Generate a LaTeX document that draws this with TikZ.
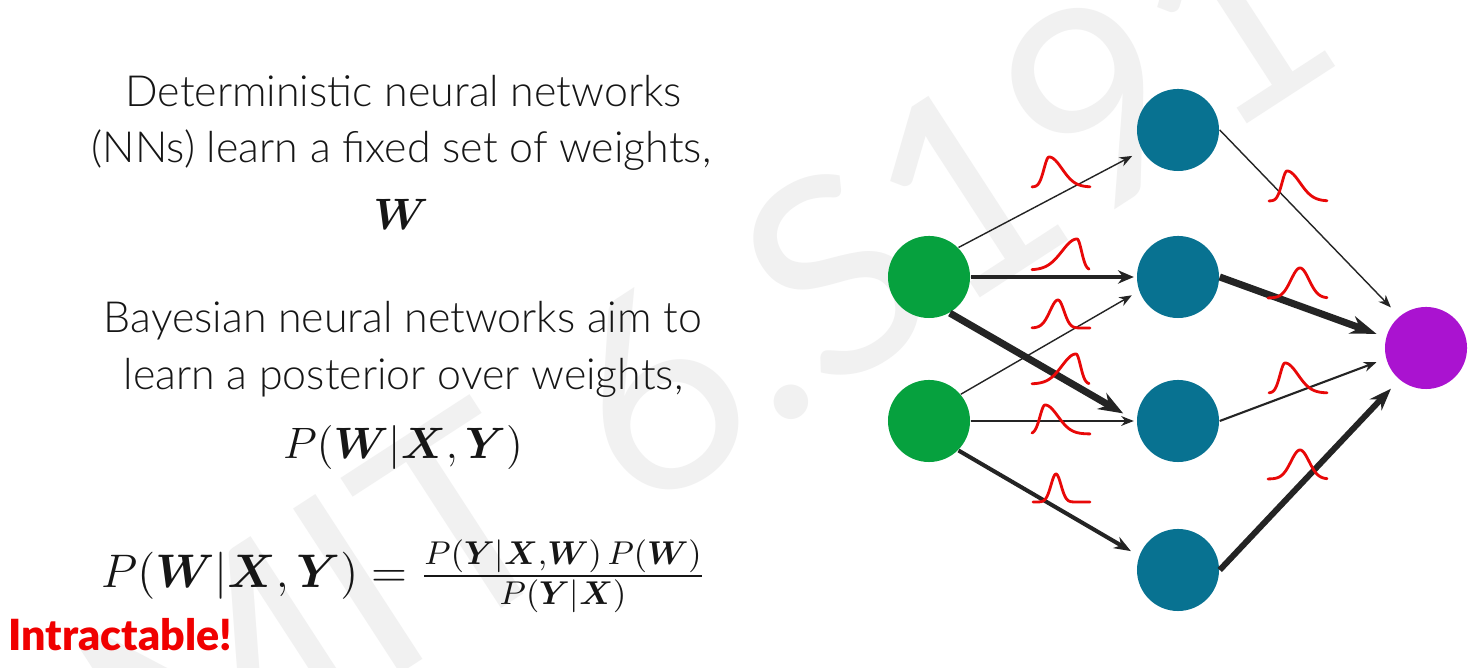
\RequirePackage{fix-cm}
\documentclass[tikz,border=0pt]{standalone}
\usepackage[no-math]{fontspec}
\usepackage{amsmath}
\usepackage{bm}
\setmainfont{Lato}[UprightFont={* Light},BoldFont={* Black}]
\newfontfamily\markfont{Lato}
\usetikzlibrary{arrows.meta}

\definecolor{inputgreen}{RGB}{6,161,62}
\definecolor{hiddenteal}{RGB}{8,114,145}
\definecolor{outputviolet}{RGB}{170,19,208}
\definecolor{bellred}{RGB}{232,8,8}
\definecolor{edgegray}{RGB}{36,36,36}
\definecolor{markgray}{RGB}{241,241,241}
\definecolor{alertred}{RGB}{240,0,0}
\definecolor{inkblack}{RGB}{22,22,22}

% split-normal bump drawn as a weight distribution:
% #1,#2 domain, #3 peak x, #4 base y, #5 height, #6 left spread, #7 right spread
\newcommand\weightbump[7]{%
  \draw[bell] plot[domain=#1:#2,samples=80]
    (\x,{#4-#5*exp(-min(((\x-#3)^2)/(2*(ifthenelse(\x<#3,#6,#7))^2),30))});}

\begin{document}
\begin{tikzpicture}[x=0.01cm,y=-0.01cm,
  neuron/.style={circle,inner sep=0pt,minimum size=0.82cm},
  wedge/.style n args={3}{draw=edgegray,line width=#1,
    -{Stealth[length=#2,width=#3]}},
  bell/.style={draw=bellred,line width=0.8pt,line cap=round,line join=round},
  body/.style={text=inkblack,inner sep=0pt,font=\fontsize{12.2}{14}\selectfont},
  formula/.style={text=inkblack,inner sep=0pt,font=\fontsize{12.5}{15}\selectfont}]

\fill[white] (0,0) rectangle (1479,668);
\useasboundingbox (0,0) rectangle (1479,668);

% faint course watermark behind everything
\node[rotate=33,anchor=base east,inner sep=0pt,text=markgray,
      font=\markfont\fontsize{78}{80}\selectfont] (mark) at (1352,56) {MIT 6.S191};

% left column text
\node[body,anchor=base] (l1) at (403.5,107) {Deterministic neural networks};
\node[body,anchor=base] (l2) at (401.5,163) {(NNs) learn a fixed set of weights,};
\node[formula,anchor=base] (l3) at (401,230) {$\bm{W}$};
\node[body,anchor=base] (l4) at (403,333) {Bayesian neural networks aim to};
\node[body,anchor=base] (l5) at (403.5,390) {learn a posterior over weights,};
\node[formula,anchor=base] (l6) at (403,459)
  {$P(\bm{W}|\bm{X},\bm{Y})$};
\node[formula,anchor=base,font=\fontsize{13.4}{16}\selectfont] (l7) at (403.5,588)
  {$P(\bm{W}|\bm{X},\bm{Y}) = \frac{P(\bm{Y}|\bm{X},\bm{W})\,P(\bm{W})}{P(\bm{Y}|\bm{X})}$};
\node[anchor=base west,inner sep=0pt,text=alertred,
      font=\bfseries\fontsize{12.2}{14}\selectfont] (warn) at (8,651) {Intractable!};

% network
\node[neuron,fill=inputgreen] (g1) at (929,277) {};
\node[neuron,fill=inputgreen] (g2) at (929,421) {};
\node[neuron,fill=hiddenteal] (h1) at (1178,130) {};
\node[neuron,fill=hiddenteal] (h2) at (1178,277) {};
\node[neuron,fill=hiddenteal] (h3) at (1178,421) {};
\node[neuron,fill=hiddenteal] (h4) at (1178,570) {};
\node[neuron,fill=outputviolet] (out) at (1426,348) {};

% input -> hidden
\draw[wedge={0.4pt}{3.6pt}{2.8pt},shorten >=3.1pt] (g1.45) -- (h1.210);
\draw[wedge={1.4pt}{4.5pt}{3.8pt},shorten >=0.7pt] (g1.east) -- (h2.west);
\draw[wedge={2pt}{7pt}{5.2pt},shorten >=4.3pt] (g1.-60) -- (h3.west);
\draw[wedge={0.4pt}{3.6pt}{2.8pt},shorten >=2.3pt] (g2.40) -- (h2.200);
\draw[wedge={0.45pt}{3.6pt}{2.8pt},shorten >=0.7pt] (g2.east) -- (h3.west);
\draw[wedge={1.15pt}{4.8pt}{3.6pt},shorten >=2.6pt] (g2.-45) -- (h4.160);

% hidden -> output
\draw[wedge={0.4pt}{3.6pt}{2.8pt},shorten >=3.4pt] (h1.east) -- (out.130);
\draw[wedge={2pt}{7.4pt}{5.2pt},shorten >=2.8pt] (h2.east) -- (out.165);
\draw[wedge={0.6pt}{3.6pt}{2.8pt},shorten >=2.8pt] (h3.east) -- (out.195);
\draw[wedge={1.7pt}{6.3pt}{4.6pt},shorten >=3.4pt] (h4.east) -- (out.230);

% weight distributions on the first layer
\weightbump{1032}{1090}{1049}{187}{30}{5}{13}
\weightbump{1032}{1089}{1077}{270}{31}{15}{4.5}
\weightbump{1032}{1090}{1058}{328}{28}{8}{6}
\weightbump{1032}{1089}{1076}{384}{30}{14}{4.5}
\weightbump{1032}{1090}{1045}{434}{29}{5}{13}
\weightbump{1033}{1090}{1056}{502}{28}{5}{5}

% weight distributions on the second layer
\weightbump{1269}{1327}{1287}{201}{30}{5}{13}
\weightbump{1268}{1327}{1300}{298}{30}{9}{9}
\weightbump{1269}{1327}{1285}{393}{30}{5}{13}
\weightbump{1268}{1327}{1300}{479}{29}{9}{9}

\end{tikzpicture}
\end{document}
